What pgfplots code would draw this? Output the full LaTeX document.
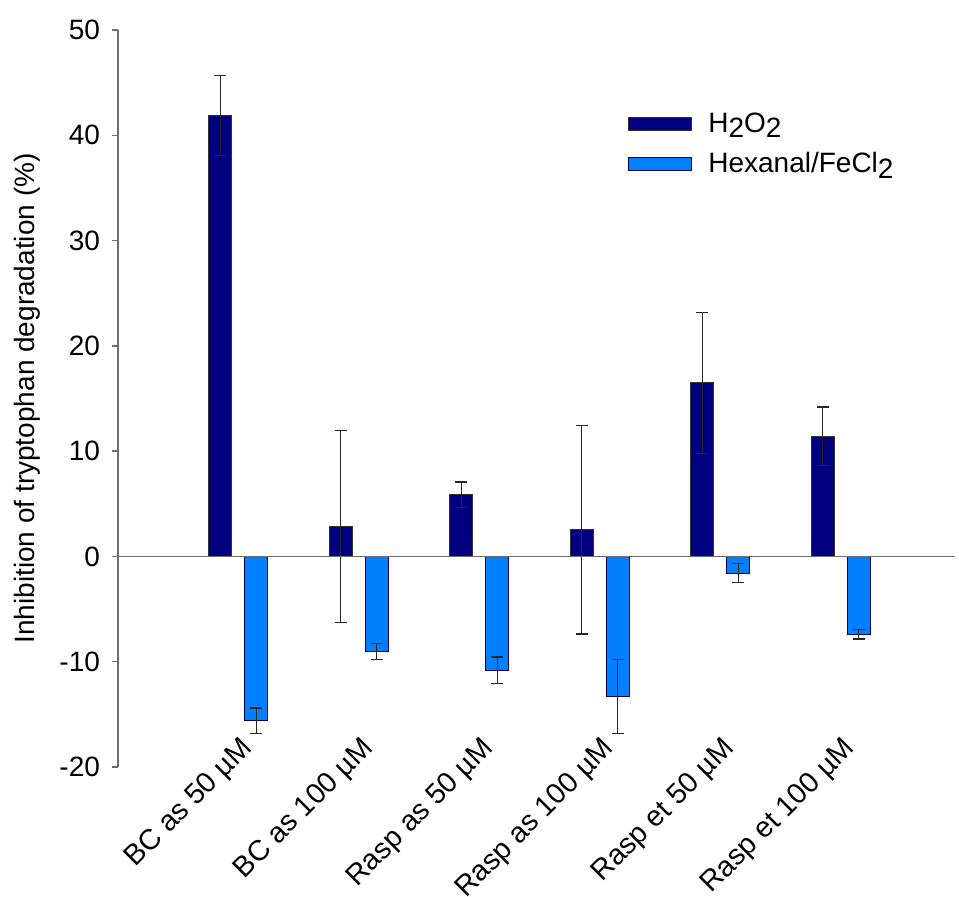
\documentclass[border=0pt]{standalone}
\usepackage{pgfplots}
\pgfplotsset{compat=1.18}
\usepackage{pgfplotstable}
\usepackage{fontspec}
\setmainfont{Liberation Sans}
\definecolor{darkbar}{RGB}{0,0,128}
\definecolor{lightbar}{RGB}{0,128,255}
\definecolor{axgray}{RGB}{110,110,110}
\pgfplotstableread{
x y e
0 41.9 3.8
1 2.85 9.1
2 5.86 1.2
3 2.53 9.9
4 16.5 6.7
5 11.4 2.8
}\hperox
\pgfplotstableread{
x y e
0 -15.6 1.2
1 -9.05 0.75
2 -10.8 1.25
3 -13.3 3.5
4 -1.6 0.9
5 -7.4 0.45
}\hexanal
\begin{document}
\begin{tikzpicture}
\useasboundingbox (-59pt,-65pt) rectangle (420.5pt,383.5pt);
\begin{axis}[
  at={(0,0)}, anchor=south west,
  scale only axis, width=418.5pt, height=368.5pt,
  xmin=-1, xmax=5.95, ymin=-20, ymax=50,
  ybar=6.5pt, bar width=11.5pt,
  axis y line*=left, axis x line*=bottom,
  x axis line style={draw=none},
  y axis line style={draw=axgray, line width=0.7pt},
  ytick={-20,-10,...,50},
  ytick style={draw=axgray, line width=0.7pt},
  xtick={0,...,5},
  xtick style={draw=none},
  xticklabels={BC as 50 µM, BC as 100 µM, Rasp as 50 µM, Rasp as 100 µM, Rasp et 50 µM, Rasp et 100 µM},
  tick align=outside, major tick length=3pt,
  /pgf/number format/assume math mode=true,
  tick label style={font=\fontsize{14}{16}\selectfont},
  yticklabel style={xshift=-2.5pt},
  xticklabel style={xshift=0.5pt, yshift=19pt, rotate=45, anchor=north east, inner sep=0pt, font=\fontsize{14.4}{16}\selectfont},
  ylabel={Inhibition of tryptophan degradation (\%)},
  ylabel style={font=\fontsize{14}{16}\selectfont, at={(axis description cs:-0.1087,0.5)}, anchor=center},
  legend style={draw=none, fill=none, at={(rel axis cs:0.6021,0.894)}, anchor=north west,
     font=\fontsize{14}{16}\selectfont, nodes={inner sep=0pt, anchor=west}, row sep=8.8pt, column sep=8pt},
  legend cell align=left,
  legend image code/.code={\draw[#1] (0pt,-3.25pt) rectangle (31.5pt,3.25pt);},
  clip=false,
]
\addplot[fill=darkbar, draw=black!80, line width=0.5pt,
  error bars/.cd, y dir=both, y explicit,
  error bar style={black!85, line width=0.6pt},
  error mark options={rotate=90, black!85, line width=0.6pt, mark size=3pt}]
  table[x=x, y=y, y error=e] {\hperox};
\addlegendentry{H\raisebox{-0.4ex}{2}O\raisebox{-0.4ex}{2}}
\addplot[fill=lightbar, draw=black!70!blue, line width=0.5pt,
  error bars/.cd, y dir=both, y explicit,
  error bar style={black!85, line width=0.6pt},
  error mark options={rotate=90, black!85, line width=0.6pt, mark size=3pt}]
  table[x=x, y=y, y error=e] {\hexanal};
\addlegendentry{Hexanal/FeCl\raisebox{-0.4ex}{2}}
\draw[axgray, line width=0.8pt] (axis cs:-1,0) -- (axis cs:5.95,0);
\end{axis}
\end{tikzpicture}
\end{document}
